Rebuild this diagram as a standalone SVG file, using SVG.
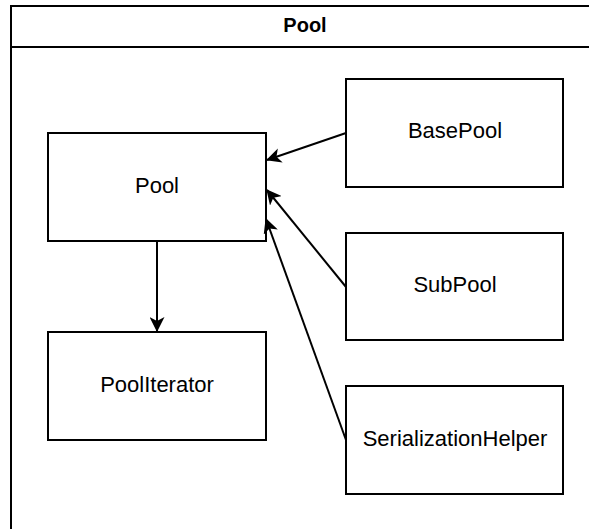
<svg xmlns="http://www.w3.org/2000/svg" width="589" height="529" viewBox="0 0 589 529">
  <style>
    .box { fill: #ffffff; stroke: #000000; stroke-width: 2; }
    .frame { fill: #ffffff; stroke: #000000; stroke-width: 2; }
    .label { font-family: "Liberation Sans", Arial, Helvetica, sans-serif; font-size: 22px; fill: #000000; text-anchor: middle; }
    .title { font-family: "Liberation Sans", Arial, Helvetica, sans-serif; font-size: 20px; font-weight: bold; fill: #000000; text-anchor: middle; }
    .edge { fill: none; stroke: #000000; stroke-width: 2; }
  </style>
  <defs>
    <marker id="arrow" viewBox="0 0 15 15" markerWidth="15" markerHeight="15" refX="14" refY="7.5" orient="auto" markerUnits="userSpaceOnUse">
      <path d="M0,0 L15,7.5 L0,15 L4,7.5 Z" fill="#000000"/>
    </marker>
  </defs>

  <!-- container with title bar -->
  <g id="container">
    <rect class="frame" x="11" y="6" width="590" height="540"/>
    <line x1="11" y1="47" x2="601" y2="47" stroke="#000000" stroke-width="2"/>
    <text class="title" x="305" y="32">Pool</text>
  </g>

  <g id="pool">
    <rect class="box" x="48" y="133" width="218" height="108"/>
    <text class="label" x="157" y="193">Pool</text>
  </g>

  <g id="pool-iterator">
    <rect class="box" x="48" y="332" width="218" height="108"/>
    <text class="label" x="157" y="392">PoolIterator</text>
  </g>

  <g id="base-pool">
    <rect class="box" x="346" y="79" width="217" height="108"/>
    <text class="label" x="455" y="138">BasePool</text>
  </g>

  <g id="sub-pool">
    <rect class="box" x="346" y="233" width="217" height="107"/>
    <text class="label" x="455" y="292">SubPool</text>
  </g>

  <g id="serialization-helper">
    <rect class="box" x="346" y="386" width="217" height="108"/>
    <text class="label" x="455" y="446">SerializationHelper</text>
  </g>

  <g id="connectors">
    <line class="edge" x1="157" y1="241" x2="157" y2="331" marker-end="url(#arrow)"/>
    <line class="edge" x1="346" y1="133" x2="267" y2="160" marker-end="url(#arrow)"/>
    <line class="edge" x1="346" y1="287" x2="267" y2="190" marker-end="url(#arrow)"/>
    <line class="edge" x1="346" y1="440" x2="266" y2="219" marker-end="url(#arrow)"/>
  </g>
</svg>
